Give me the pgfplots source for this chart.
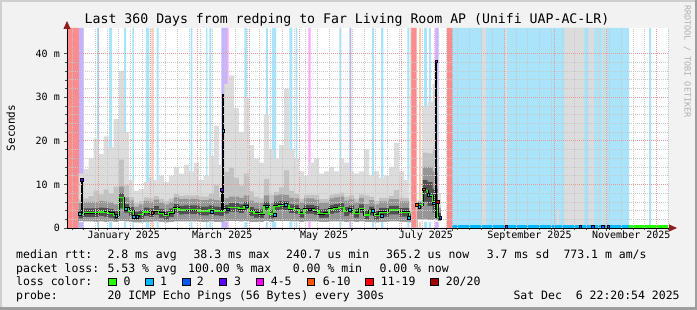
\documentclass[border=0pt]{standalone}
\usepackage{fontspec}
\setmainfont{DejaVu Sans Mono}
\usepackage{pgfplots}
\usepackage{pgfplotstable}
\pgfplotsset{compat=1.18}
\usetikzlibrary{arrows.meta}

\definecolor{bgback}{HTML}{F2F2F2}
\definecolor{shadea}{HTML}{CFCFCF}
\definecolor{shadeb}{HTML}{9E9E9E}
\definecolor{bandred}{HTML}{FF8C8C}
\definecolor{bandcyan}{HTML}{AAE4FA}
\definecolor{bandblue}{HTML}{AEC8FF}
\definecolor{bandlav}{HTML}{C4B4FF}
\definecolor{bandmag}{HTML}{FFA8FF}
\definecolor{bandpeach}{HTML}{FFCBB0}
\definecolor{bandgray}{HTML}{DCDCDC}
\definecolor{smokeA}{HTML}{DCDCDC}
\definecolor{smokeB}{HTML}{C2C2C2}
\definecolor{smokeC}{HTML}{969696}
\definecolor{smokeD}{HTML}{505050}
\definecolor{loss0}{HTML}{26FF00}
\definecolor{loss1}{HTML}{00B8FF}
\definecolor{loss2}{HTML}{0059FF}
\definecolor{loss3}{HTML}{5E00FF}
\definecolor{loss5}{HTML}{FF00FF}
\definecolor{loss10}{HTML}{FF5500}
\definecolor{loss19}{HTML}{FF0000}
\definecolor{loss20}{HTML}{A10000}
\definecolor{gridminor}{HTML}{C8C8C8}
\definecolor{gridmajor}{HTML}{E89A9A}
\definecolor{arrowred}{HTML}{8E1E1E}
\definecolor{wmark}{HTML}{B0B0B0}

% x = days since 13 Dec 2024, y = milliseconds
\pgfplotstableread{
d lo lo3 med u4 u3 u2 max
7 1.6 2.2 3.2 4.2 5.7 6.5 12.5
10 1.5 2.5 3.5 4.5 6.0 6.8 13.5
13 1.5 2.5 3.5 4.5 6.0 7.3 16
16 1.4 2.5 3.5 4.5 6.0 8.6 20.5
19 1.5 2.7 3.7 4.7 6.2 7.7 17
22 1.4 2.6 3.6 4.6 6.1 8.8 21
25 1.5 2.4 3.4 4.4 5.9 7.9 18.5
28 1.4 1.9 2.9 3.9 5.4 9.5 25
31 1.6 4.5 7.0 8.0 9.5 15.7 36
34 1.5 3.5 4.5 5.5 7.0 9.8 22
37 1.4 2.8 3.8 4.8 6.3 7.1 11
40 1.3 1.9 2.7 3.7 4.9 5.7 8.5
43 1.3 2.1 3.1 4.1 5.4 6.2 9
46 1.4 2.7 3.7 4.7 6.2 7.0 10.5
49 1.4 2.5 3.5 4.5 6.0 6.8 11.5
52 1.5 3.0 4.0 5.0 6.5 7.3 11
55 1.4 2.4 3.4 4.4 5.9 6.7 12
58 1.3 1.9 2.9 3.9 5.4 6.2 10.5
61 1.4 2.5 3.5 4.5 6.0 6.8 12
64 1.5 3.5 4.5 5.5 7.0 7.8 14
67 1.5 3.1 4.1 5.1 6.6 7.4 12.5
70 1.5 3.2 4.2 5.2 6.7 7.5 14.5
73 1.5 3.2 4.2 5.2 6.7 7.5 13
76 1.5 3.2 4.2 5.2 6.7 7.5 15
79 1.4 2.9 3.9 4.9 6.4 7.2 11
82 1.4 2.9 3.9 4.9 6.4 7.2 12
85 1.5 3.2 4.2 5.2 6.7 7.9 16.5
88 1.4 2.9 3.9 4.9 6.4 9.8 23.5
91 1.4 2.8 3.8 4.8 6.3 7.1 14.5
94 1.5 3.3 4.3 5.3 6.8 12.9 33
97 1.6 3.7 4.7 5.7 7.2 13.8 35
100 1.6 3.7 4.7 5.7 7.2 11.5 27.5
103 1.5 3.4 4.4 5.4 6.9 9.7 22
106 1.6 4.0 5.0 6.0 7.5 12.5 30
109 1.4 2.8 3.8 4.8 6.3 8.4 19
112 1.4 2.4 3.4 4.4 5.9 7.2 16
115 1.4 2.3 3.3 4.3 5.8 6.8 15
118 1.6 4.0 5.0 6.0 7.5 11.3 26
121 1.4 2.2 3.2 4.2 5.7 7.6 18
124 1.6 4.0 5.0 6.0 7.5 8.3 16
127 1.6 4.2 5.2 6.2 7.7 9.3 19
130 1.6 4.1 5.1 6.1 7.6 13.2 32
133 1.5 3.4 4.4 5.4 6.9 8.5 18
136 1.5 3.3 4.3 5.3 6.8 7.8 16
139 1.4 2.4 3.4 4.4 5.9 6.7 13
142 1.5 3.3 4.3 5.3 6.8 7.6 12
145 1.5 3.3 4.3 5.3 6.8 7.6 15
148 1.5 3.0 4.0 5.0 6.5 7.6 16
151 1.4 2.3 3.3 4.3 5.8 6.6 12.5
154 1.4 2.4 3.4 4.4 5.9 6.7 13
157 1.5 3.3 4.3 5.3 6.8 7.6 14
160 1.5 3.5 4.5 5.5 7.0 7.8 13
163 1.5 3.7 4.7 5.7 7.2 8.1 16
166 1.4 2.8 3.8 4.8 6.3 7.2 15
169 1.5 3.2 4.2 5.2 6.7 7.5 13
172 1.4 2.4 3.4 4.4 5.9 6.7 12.5
175 1.5 3.4 4.4 5.4 6.9 7.7 13
178 1.4 2.0 3.0 4.0 5.5 7.5 18
181 1.4 2.9 3.9 4.9 6.4 7.2 12
184 1.3 1.9 2.9 3.9 5.4 6.2 13
187 1.4 2.6 3.6 4.6 6.1 6.9 11.5
190 1.4 2.6 3.6 4.6 6.1 6.9 12
193 1.5 3.1 4.1 5.1 6.6 7.4 14
196 1.5 3.1 4.1 5.1 6.6 8.7 19.5
199 1.4 2.6 3.6 4.6 6.1 6.9 13
202 1.4 2.6 3.6 4.6 6.1 6.9 11
205 1.3 1.8 2.4 3.1 3.6 3.7 4
206 1.3 1.8 2.4 3.1 3.6 3.7 4
}\smokeA

\pgfplotstableread{
d lo lo3 med u4 u3 u2 max
210 2.0 4.5 5.3 5.8 6.0 6.2 6.5
213 2.0 6.0 8.6 11.0 14.0 17.3 28
216 1.8 5.0 7.4 10.5 14.0 17.1 29
219 1.8 3.5 6.0 9.0 13.0 18.2 33
222 1.6 1.8 2.4 3.4 4.5 4.9 8
224 1.6 1.8 2.4 3.4 4.5 4.9 8
}\smokeB

\newcommand\lf{\fontsize{11.5}{13}\selectfont}

\begin{document}
\begin{tikzpicture}[x=1pt,y=1pt]
\fill[bgback] (0,0) rectangle (697,310);
\fill[shadea] (0,0) rectangle (2,310);
\fill[shadea] (0,308) rectangle (697,310);
\fill[shadeb] (0,0) rectangle (697,2.5);
\fill[shadeb] (694.5,0) rectangle (697,310);

\begin{axis}[
  at={(67pt,82pt)}, anchor=south west,
  width=601pt, height=200pt, scale only axis,
  xmin=0, xmax=360, ymin=0, ymax=45.9,
  axis lines=left, axis on top,
  axis background/.style={fill=white},
  axis line style={black, line width=0.8pt},
  x axis line style={-{Triangle[length=8pt,width=7pt,color=arrowred]}, shorten >=-9pt},
  y axis line style={-{Triangle[length=8pt,width=7pt,color=arrowred]}, shorten >=-7pt},
  cycle list={{mark=none}},
  xtick={19,50,78,109,139,170,200,231,262,292,323,353},
  xticklabels={,,,,,,,,,,,},
  minor xtick={3,10,...,360},
  extra x ticks={34,93,154,215,277,338},
  extra x tick labels={January 2025,March 2025,May 2025,July 2025,September 2025,November 2025},
  extra x tick style={grid=none, major tick length=0pt},
  ytick={0,10,20,30,40},
  yticklabels={\mbox{0},\mbox{10 m},\mbox{20 m},\mbox{30 m},\mbox{40 m}},
  minor y tick num=4,
  grid=both,
  major grid style={draw=gridmajor, line width=0.7pt, dash pattern=on 1pt off 1pt},
  minor grid style={draw=gridminor, line width=0.7pt, dash pattern=on 1pt off 1pt},
  tick align=outside,
  major tick length=3pt, minor tick length=2pt,
  tick style={black!70, line width=0.6pt},
  ticklabel style={font=\fontsize{10}{12}\selectfont},
  yticklabel style={inner sep=0pt, xshift=-4pt},
  xticklabel style={inner sep=0pt, yshift=-3pt},
  band/.style={const plot, draw=none, mark=none, forget plot},
  smoke/.style={const plot, draw=none, mark=none, forget plot},
]

% ---------- loss background bands ----------
\addplot[band, fill=bandcyan] coordinates {
 (18.0,45.9)(19.2,0)(25.2,45.9)(27.0,0)(34.2,45.9)(35.4,0)(39.1,45.9)(40.1,0)
 (47.3,45.9)(49.3,0)(53.7,45.9)(54.9,0)(74.1,45.9)(75.1,0)(83.3,45.9)(84.1,0)
 (85.3,45.9)(86.5,0)(106.2,45.9)(107.7,0)(119.1,45.9)(120.3,0)(122.7,45.9)(125.2,0)
 (133.2,45.9)(135.0,0)(137.0,45.9)(138.0,0)(163.2,45.9)(164.4,0)(182.6,45.9)(183.8,0)
 (188.1,45.9)(189.5,0)(203.9,45.9)(205.1,0)(213.9,45.9)(215.5,0)(216.7,45.9)(217.9,0)
 (230.5,45.9)(336.7,0)(348.7,45.9)(349.9,0)} \closedcycle;
\addplot[band, fill=bandblue] coordinates {(169.2,45.9)(170.4,0)} \closedcycle;
\addplot[band, fill=bandred] coordinates {(0,45.9)(7.2,0)(205.9,45.9)(209.5,0)(227.5,45.9)(230.5,0)} \closedcycle;
\addplot[band, fill=bandlav] coordinates {(7.2,45.9)(9.9,0)(92.5,45.9)(95.9,0)(221.1,45.9)(222.6,0)} \closedcycle;
\addplot[band, fill=bandmag] coordinates {(95.9,45.9)(96.8,0)(144.6,45.9)(146.0,0)(220.3,45.9)(221.1,0)} \closedcycle;
\addplot[band, fill=bandpeach] coordinates {(50.5,45.9)(51.7,0)(210.9,45.9)(212.1,0)} \closedcycle;
\addplot[band, fill=bandgray] coordinates {(248.5,45.9)(250.9,0)(262.4,45.9)(263.5,0)(298.0,45.9)(309.8,0)
 (312.4,45.9)(315.8,0)(317.8,45.9)(318.8,0)(320.6,45.9)(321.5,0)(322.4,45.9)(323.6,0)} \closedcycle;
\addplot[band, fill=smokeA] coordinates {(293.4,4.4)(294.8,4.4)} \closedcycle;

% ---------- smoke: painted from the outside in ----------
\addplot[smoke, fill=smokeA] table[x=d,y=max]{\smokeA} \closedcycle;
\addplot[smoke, fill=smokeB] table[x=d,y=u2]{\smokeA} \closedcycle;
\addplot[smoke, fill=smokeC] table[x=d,y=u3]{\smokeA} \closedcycle;
\addplot[smoke, fill=smokeD] table[x=d,y=u4]{\smokeA} \closedcycle;
\addplot[smoke, fill=smokeC] table[x=d,y=lo3]{\smokeA} \closedcycle;
\addplot[smoke, fill=white] table[x=d,y=lo]{\smokeA} \closedcycle;
\addplot[smoke, fill=smokeA] table[x=d,y=max]{\smokeB} \closedcycle;
\addplot[smoke, fill=smokeB] table[x=d,y=u2]{\smokeB} \closedcycle;
\addplot[smoke, fill=smokeC] table[x=d,y=u3]{\smokeB} \closedcycle;
\addplot[smoke, fill=smokeD] table[x=d,y=u4]{\smokeB} \closedcycle;
\addplot[smoke, fill=smokeC] table[x=d,y=lo3]{\smokeB} \closedcycle;
\addplot[smoke, fill=white] table[x=d,y=lo]{\smokeB} \closedcycle;

% bands seen again below the smoke
\addplot[band, fill=bandcyan] coordinates {
 (18.0,1.4)(19.2,0)(25.2,1.4)(27.0,0)(34.2,1.4)(35.4,0)(39.1,1.4)(40.1,0)
 (47.3,1.4)(49.3,0)(53.7,1.4)(54.9,0)(74.1,1.4)(75.1,0)(83.3,1.4)(84.1,0)
 (85.3,1.4)(86.5,0)(106.2,1.4)(107.7,0)(119.1,1.4)(120.3,0)(122.7,1.4)(125.2,0)
 (133.2,1.4)(135.0,0)(137.0,1.4)(138.0,0)(163.2,1.4)(164.4,0)(182.6,1.4)(183.8,0)
 (188.1,1.4)(189.5,0)(203.9,1.4)(205.1,0)(213.9,1.4)(215.5,0)(216.7,1.4)(217.9,0)} \closedcycle;
\addplot[band, fill=bandblue] coordinates {(169.2,1.4)(170.4,0)} \closedcycle;
\addplot[band, fill=bandlav] coordinates {(7.2,1.4)(9.9,0)(92.5,1.4)(95.9,0)(221.1,1.4)(222.6,0)} \closedcycle;
\addplot[band, fill=bandmag] coordinates {(95.9,1.4)(96.8,0)(144.6,1.4)(146.0,0)(220.3,1.4)(221.1,0)} \closedcycle;
\addplot[band, fill=bandpeach] coordinates {(50.5,1.4)(51.7,0)(210.9,1.4)(212.1,0)} \closedcycle;

% ---------- median (green where no loss) ----------
\addplot[const plot, black, line width=1.9pt, mark=none] table[x=d,y=med]{\smokeA};
\addplot[const plot, loss0, line width=1.3pt, mark=none] table[x=d,y=med]{\smokeA};
\addplot[const plot, black, line width=1.9pt, mark=none] table[x=d,y=med]{\smokeB};
\addplot[const plot, loss0, line width=1.3pt, mark=none] table[x=d,y=med]{\smokeB};

% spikes of the median
\addplot[black, line width=1.3pt, mark=none] coordinates {(8.9,3.2)(8.9,11.0)};
\addplot[black, line width=1.0pt, mark=none] coordinates {(92.6,3.9)(92.6,8.7)};
\addplot[black, line width=2.4pt, mark=none] coordinates {(93.6,4.0)(93.6,30.7)};
\addplot[black, line width=2.4pt, mark=none] coordinates {(221.2,2.3)(221.2,38.3)};

% loss-coloured median points
\addplot[only marks, mark=square*, mark size=1.4pt, mark options={draw=none, fill=loss1}] coordinates {
 (7.8,3.2)(29.5,2.9)(35,4.4)(40,2.6)(42,2.6)(86.5,3.8)(93.6,22.3)(107.5,5.0)(119.6,5.0)
 (124.6,3.1)(131,5.3)(169.5,4.2)(183,3.9)(188.5,2.8)(204.5,2.3)(211,4.9)(216.3,7.6)(219.7,5.7)};
\addplot[only marks, mark=square*, mark size=1.4pt, mark options={draw=none, fill=loss2}] coordinates {
 (96.3,4.3)(223.5,2.4)};
\addplot[only marks, mark=square*, mark size=1.4pt, mark options={draw=none, fill=loss3}] coordinates {
 (8.9,11.0)(92.6,8.7)};
\addplot[only marks, mark=square*, mark size=1.4pt, mark options={draw=none, fill=loss5}] coordinates {
 (145.4,4.3)(221.2,38.3)};
\addplot[only marks, mark=square*, mark size=1.4pt, mark options={draw=none, fill=loss10}] coordinates {
 (51,3.5)(209.5,5.4)(213.5,8.9)};
\addplot[only marks, mark=square*, mark size=1.4pt, mark options={draw=none, fill=loss19}] coordinates {
 (222.2,6.0)};

% median after July (about 0.3 ms)
\addplot[loss1, line width=2.6pt, mark=none] coordinates {(230.5,0.3)(336.7,0.3)};
\addplot[loss0, line width=2.6pt, mark=none] coordinates {(336.7,0.3)(360,0.3)};
\addplot[only marks, mark=square*, mark size=1.2pt, mark options={draw=none, fill=loss2}] coordinates {
 (263,0.3)(307.4,0.3)(315,0.3)(321,0.3)(324,0.3)};
\end{axis}

% title
\node[anchor=base, inner sep=0pt] at (347,286) {\fontsize{13.2}{15}\selectfont Last 360 Days from redping to Far Living Room AP (Unifi UAP-AC-LR)};
% y label
\node[rotate=90, anchor=base, inner sep=0pt] at (15,182) {\fontsize{11}{13}\selectfont Seconds};
% watermark
\node[rotate=-90, anchor=base west, inner sep=0pt, text=wmark] at (684.5,305) {\fontsize{8.5}{10}\selectfont RRDTOOL / TOBI OETIKER};

% legend
\begin{scope}[every node/.style={anchor=base west, inner sep=0pt, font=\lf}]
\node at (16,51.7) {median rtt:};
\node at (107.3,51.7) {2.8 ms avg};
\node at (193.3,51.7) {38.3 ms max};
\node at (286,51.7) {240.7 us min};
\node at (386,51.7) {365.2 us now};
\node at (486.7,51.7) {3.7 ms sd};
\node at (563.3,51.7) {773.1 m am/s};

\node at (16,37.7) {packet loss:};
\node at (107.3,37.7) {5.53 \% avg};
\node at (188,37.7) {100.00 \% max};
\node at (292.7,37.7) {0.00 \% min};
\node at (379.3,37.7) {0.00 \% now};

\node at (16,24) {loss color:};
\node at (123.3,24) {0};
\node at (160,24) {1};
\node at (196.7,24) {2};
\node at (234,24) {3};
\node at (270.7,24) {4-5};
\node at (322.7,24) {6-10};
\node at (380.7,24) {11-19};
\node at (445.7,24) {20/20};

\node at (16,10.3) {probe:};
\node at (107.3,10.3) {20 ICMP Echo Pings (56 Bytes) every 300s};
\node at (513.3,10.3) {Sat Dec~~6 22:20:54 2025};
\end{scope}
\foreach \bx/\bc in {108.7/loss0,145.7/loss1,182.7/loss2,219.3/loss3,256/loss5,307.3/loss10,365.7/loss19,430.7/loss20}
  \draw[fill=\bc, draw=black, line width=0.7pt] (\bx,24.3) rectangle ++(7.2,7.2);

\pgfresetboundingbox
\useasboundingbox (0,0) rectangle (697,310);
\end{tikzpicture}
\end{document}
